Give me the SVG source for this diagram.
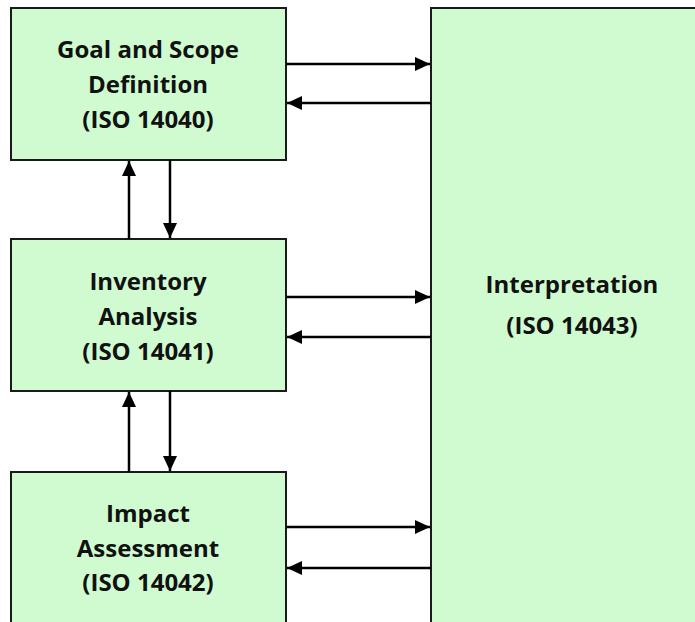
<svg xmlns="http://www.w3.org/2000/svg" width="695" height="622" viewBox="0 0 695 622">
<style>
.box{fill:#d0fbd0;stroke:#1a1a1a;stroke-width:2}
.t{font-family:"Open Sans","Liberation Sans",sans-serif;font-weight:bold;font-size:24px;fill:#111;text-anchor:middle}
.c{stroke:#000;stroke-width:2.5;fill:none;marker-end:url(#ah)}
</style>
<defs>
<marker id="ah" markerUnits="userSpaceOnUse" markerWidth="16" markerHeight="14" refX="15" refY="7" orient="auto">
<path d="M0,0 L15,7 L0,14 Z" fill="#000"/>
</marker>
</defs>
<rect width="695" height="622" fill="#fff"/>
<g id="interpretation">
<rect class="box" x="431" y="8" width="290" height="630"/>
<text class="t" x="572" y="293">Interpretation</text>
<text class="t" x="572" y="334">(ISO 14043)</text>
</g>
<g id="goal">
<rect class="box" x="11" y="8" width="275" height="152"/>
<text class="t" x="148" y="58">Goal and Scope</text>
<text class="t" x="148" y="93">Definition</text>
<text class="t" x="148" y="128">(ISO 14040)</text>
</g>
<g id="inventory">
<rect class="box" x="11" y="239" width="275" height="152"/>
<text class="t" x="148" y="290">Inventory</text>
<text class="t" x="148" y="325">Analysis</text>
<text class="t" x="148" y="360">(ISO 14041)</text>
</g>
<g id="impact">
<rect class="box" x="11" y="472" width="275" height="170"/>
<text class="t" x="148" y="522">Impact</text>
<text class="t" x="148" y="557">Assessment</text>
<text class="t" x="148" y="591">(ISO 14042)</text>
</g>
<g id="connectors">
<line class="c" x1="286" y1="64" x2="430" y2="64"/>
<line class="c" x1="431" y1="103" x2="287" y2="103"/>
<line class="c" x1="286" y1="297" x2="430" y2="297"/>
<line class="c" x1="431" y1="337" x2="287" y2="337"/>
<line class="c" x1="286" y1="527" x2="430" y2="527"/>
<line class="c" x1="431" y1="568" x2="287" y2="568"/>
<line class="c" x1="129" y1="239" x2="129" y2="161"/>
<line class="c" x1="170" y1="160" x2="170" y2="238"/>
<line class="c" x1="129" y1="472" x2="129" y2="392"/>
<line class="c" x1="170" y1="391" x2="170" y2="471"/>
</g>
</svg>
